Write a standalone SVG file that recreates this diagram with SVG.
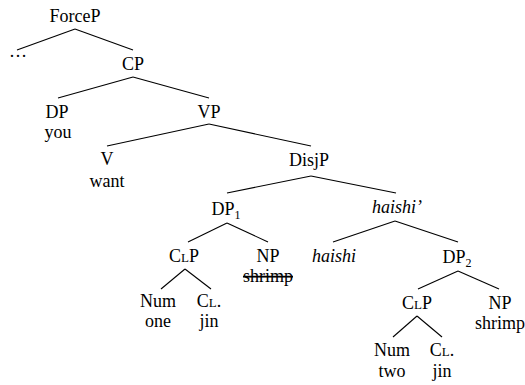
<svg xmlns="http://www.w3.org/2000/svg" width="525" height="385" viewBox="0 0 525 385">
<style>
text{font-family:'Liberation Serif','Times New Roman','DejaVu Serif',serif;font-size:18px;fill:#000;text-anchor:middle}
.it{font-style:italic}
.sc{font-size:13px}
.sub{font-size:12px}
.del{text-decoration:line-through}
#edges line{stroke:#000;stroke-width:1.1}
</style>
<rect width="525" height="385" fill="#fff"/>
<g id="edges">
<line x1="75" y1="29" x2="17" y2="50"/>
<line x1="75" y1="29" x2="133" y2="50"/>
<line x1="133" y1="77" x2="58" y2="98"/>
<line x1="133" y1="77" x2="209" y2="98"/>
<line x1="209" y1="124" x2="107" y2="146"/>
<line x1="209" y1="124" x2="311" y2="146"/>
<line x1="311" y1="176" x2="227" y2="193"/>
<line x1="311" y1="176" x2="396" y2="193"/>
<line x1="227" y1="223" x2="188" y2="242"/>
<line x1="227" y1="223" x2="268" y2="242"/>
<line x1="395" y1="221" x2="333" y2="242"/>
<line x1="395" y1="221" x2="458" y2="242"/>
<line x1="185" y1="269" x2="161" y2="289"/>
<line x1="185" y1="269" x2="211" y2="289"/>
<line x1="458" y1="271" x2="418" y2="289"/>
<line x1="458" y1="271" x2="499" y2="289"/>
<line x1="417" y1="316" x2="393" y2="337"/>
<line x1="417" y1="316" x2="442" y2="337"/>
</g>
<g id="ForceP"><text x="75" y="22">ForceP</text></g>
<g id="dots"><text x="18" y="57">…</text></g>
<g id="CP"><text x="133" y="70">CP</text></g>
<g id="DP"><text x="57" y="118">DP</text><text x="58" y="138">you</text></g>
<g id="VP"><text x="209" y="118">VP</text></g>
<g id="V"><text x="107" y="165">V</text><text x="107" y="187">want</text></g>
<g id="DisjP"><text x="309" y="166">DisjP</text></g>
<g id="DP1"><text x="226" y="215">DP<tspan class="sub" dy="4">1</tspan></text></g>
<g id="haishiBar"><text class="it" x="397" y="213">haishi’</text></g>
<g id="CLP1"><text x="184" y="262">C<tspan class="sc">L</tspan>P</text></g>
<g id="NP1"><text x="268" y="262">NP</text><text class="del" x="268" y="282">shrimp</text></g>
<g id="haishi"><text class="it" x="334" y="262">haishi</text></g>
<g id="DP2"><text x="457" y="263">DP<tspan class="sub" dy="4">2</tspan></text></g>
<g id="Num1"><text x="158" y="307">Num</text><text x="158" y="327">one</text></g>
<g id="CL1"><text x="209" y="307">C<tspan class="sc">L</tspan>.</text><text x="209" y="327">jin</text></g>
<g id="CLP2"><text x="417" y="309">C<tspan class="sc">L</tspan>P</text></g>
<g id="NP2"><text x="500" y="309">NP</text><text x="500" y="329">shrimp</text></g>
<g id="Num2"><text x="392" y="356">Num</text><text x="392" y="377">two</text></g>
<g id="CL2"><text x="442" y="356">C<tspan class="sc">L</tspan>.</text><text x="442" y="377">jin</text></g>
</svg>
